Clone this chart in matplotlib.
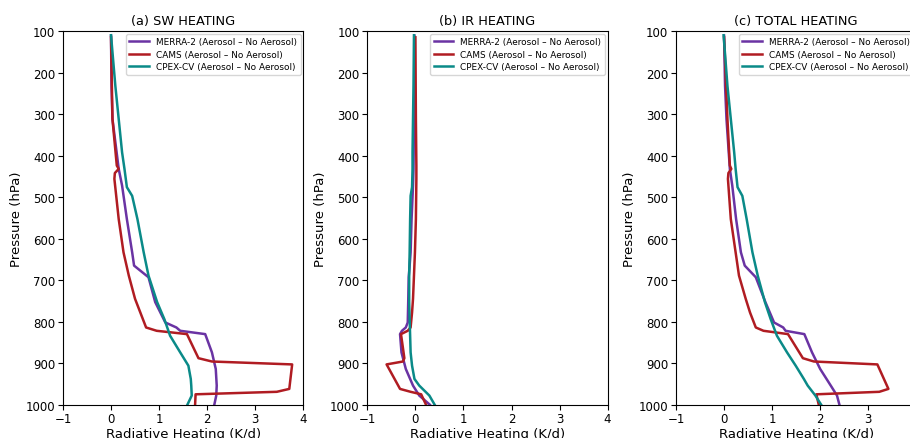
import matplotlib
matplotlib.use("Agg")
import matplotlib.pyplot as plt

# pressure levels (hPa) for each dataset
p_merra = [111, 232, 312, 432, 472, 553, 633, 665, 693, 753, 802, 814, 822, 830, 874, 914, 954, 978, 1000]
p_cams = [115, 312, 424, 432, 442, 456, 553, 633, 689, 745, 778, 814, 822, 830, 888, 896, 903, 962, 969, 975, 1000]
p_cpex = [110, 232, 312, 392, 432, 476, 497, 553, 633, 689, 753, 794, 834, 874, 906, 938, 954, 978, 1000]

# heating differences (K/d), aerosol - no aerosol
merra_sw = [0.0, 0.01, 0.03, 0.16, 0.23, 0.33, 0.44, 0.48, 0.78, 0.92, 1.13, 1.36, 1.44, 1.96, 2.10, 2.18, 2.20, 2.19, 2.15]
merra_ir = [-0.02, -0.02, -0.03, -0.04, -0.05, -0.08, -0.10, -0.12, -0.14, -0.15, -0.16, -0.20, -0.28, -0.32, -0.29, -0.20, -0.05, 0.08, 0.30]
merra_tot = [0.0, 0.02, 0.05, 0.12, 0.17, 0.25, 0.35, 0.43, 0.66, 0.86, 1.04, 1.23, 1.28, 1.67, 1.83, 2.00, 2.22, 2.35, 2.40]

cams_sw = [0.0, 0.03, 0.12, 0.16, 0.08, 0.07, 0.16, 0.26, 0.37, 0.50, 0.61, 0.73, 0.95, 1.58, 1.82, 2.10, 3.77, 3.71, 3.45, 1.76, 1.75]
cams_ir = [0.0, 0.01, 0.02, 0.02, 0.02, 0.02, 0.01, -0.01, -0.03, -0.05, -0.07, -0.10, -0.16, -0.30, -0.23, -0.26, -0.60, -0.32, -0.10, 0.12, 0.22]
cams_tot = [0.0, 0.07, 0.12, 0.15, 0.09, 0.08, 0.14, 0.24, 0.31, 0.45, 0.54, 0.66, 0.82, 1.33, 1.64, 1.87, 3.19, 3.42, 3.23, 1.92, 1.97]

cpex_sw = [0.0, 0.09, 0.16, 0.23, 0.28, 0.33, 0.44, 0.55, 0.68, 0.78, 0.96, 1.11, 1.23, 1.44, 1.61, 1.66, 1.67, 1.68, 1.59]
cpex_ir = [-0.03, -0.04, -0.05, -0.06, -0.06, -0.07, -0.10, -0.11, -0.12, -0.13, -0.13, -0.12, -0.11, -0.10, -0.07, -0.02, 0.08, 0.29, 0.40]
cpex_tot = [-0.01, 0.07, 0.14, 0.21, 0.24, 0.28, 0.38, 0.47, 0.59, 0.70, 0.85, 0.97, 1.10, 1.31, 1.49, 1.66, 1.74, 1.90, 2.02]

titles = ["(a) SW HEATING", "(b) IR HEATING", "(c) TOTAL HEATING"]
labels = ["MERRA-2 (Aerosol \u2013 No Aerosol)", "CAMS (Aerosol \u2013 No Aerosol)", "CPEX-CV (Aerosol \u2013 No Aerosol)"]
colors = ["#6a33a3", "#b01c22", "#0a8a88"]

panels = [
    (merra_sw, cams_sw, cpex_sw),
    (merra_ir, cams_ir, cpex_ir),
    (merra_tot, cams_tot, cpex_tot),
]
lefts = [0.0692, 0.4037, 0.7429]

fig = plt.figure(figsize=(9.1, 4.39), dpi=100)

for i, (m, c, x) in enumerate(panels):
    ax = fig.add_axes([lefts[i], 0.0759, 0.2640, 0.851])
    ax.plot(m, p_merra, color=colors[0], linewidth=1.8, label=labels[0])
    ax.plot(c, p_cams, color=colors[1], linewidth=1.8, label=labels[1])
    ax.plot(x, p_cpex, color=colors[2], linewidth=1.8, label=labels[2])
    ax.set_xlim(-1, 4)
    ax.set_ylim(1000, 100)
    ax.set_yticks(range(100, 1001, 100))
    # last panel runs past the right edge of the picture, so its "4" is not shown
    if i == 2:
        ax.set_xticks(range(-1, 4))
    else:
        ax.set_xticks(range(-1, 5))
    ax.tick_params(labelsize=8.5, pad=2)
    ax.set_title(titles[i], fontsize=9.3, pad=5)
    ax.set_xlabel("Radiative Heating (K/d)", fontsize=9.5, labelpad=1)
    ax.set_ylabel("Pressure (hPa)", fontsize=9.5, labelpad=2)
    ax.legend(loc="upper right", fontsize=6.4, handlelength=2.2, borderaxespad=0.3, labelspacing=0.4)

fig.savefig("out.png", dpi=100)
